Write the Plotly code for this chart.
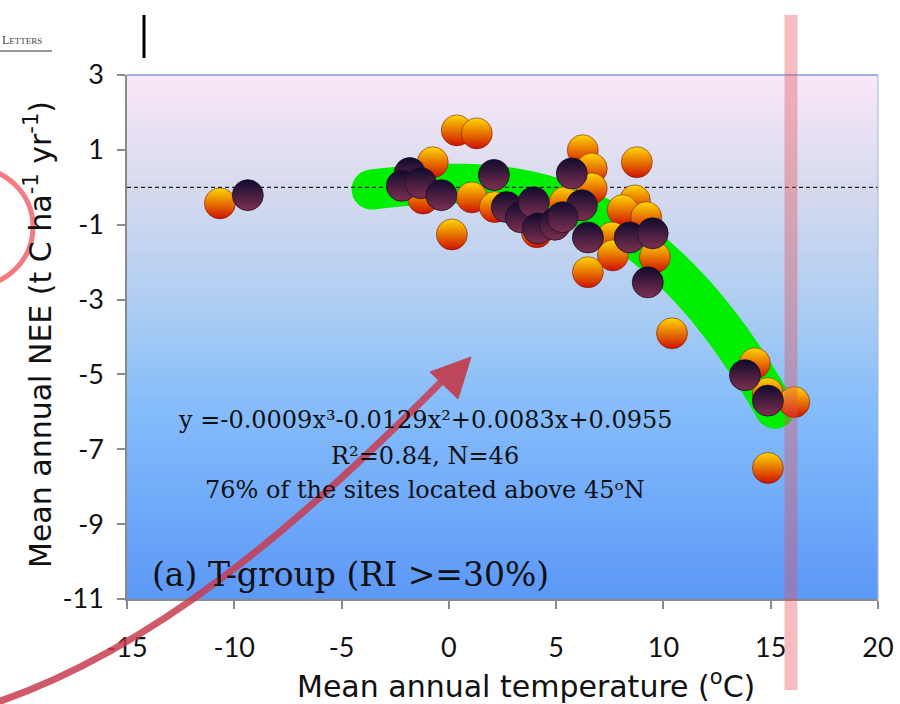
import numpy as np
import plotly.graph_objects as go

# ---------------- data ----------------
orange_x = [-10.67, 0.37, 1.3, -0.75, 0.14, 1.07, -1.2, 2.14, 4.1, 6.24, 6.66, 6.66, 5.4,
            8.76, 8.67, 8.1, 9.2, 7.6, 7.64, 9.6, 6.48, 10.4, 14.26, 14.87, 16.1, 14.87]
orange_y = [-0.43, 1.52, 1.44, 0.67, -1.26, -0.27, -0.3, -0.53, -1.2, 0.99, 0.5, -0.03, -0.4,
            0.67, -0.35, -0.61, -0.8, -1.34, -1.82, -1.87, -2.27, -3.9, -4.7, -5.5, -5.74, -7.5]

dark_x = [-9.37, -1.82, -2.19, -1.3, -0.35, 2.1, 2.7, 3.35, 3.95, 4.15, 5.0, 5.73, 6.2,
          4.94, 5.3, 6.48, 8.43, 9.5, 9.27, 13.8, 14.87]
dark_y = [-0.21, 0.38, 0.04, 0.11, -0.21, 0.33, -0.53, -0.8, -0.4, -1.1, -0.94, 0.37, -0.48,
          -1.0, -0.8, -1.34, -1.34, -1.23, -2.54, -5.02, -5.7]

trend_coef = [-0.0009, -0.0129, 0.0083, 0.0955]   # cubic trendline shown on chart
trend_x_range = [-3.6, 15.2]

x_ticks = [-15, -10, -5, 0, 5, 10, 15, 20]
y_ticks = [3, 1, -1, -3, -5, -7, -9, -11]
x_range = [-15, 20]
y_range = [-11, 3]

eq_text = "y =-0.0009x³-0.0129x²+0.0083x+0.0955"
r2_text = "R²=0.84, N=46"
sites_text = "76% of the sites located above 45ᵒN"
panel_text = "(a) T-group (RI >=30%)"
x_title = "Mean annual temperature (<sup>o</sup>C)"
y_title = "Mean annual NEE (t C ha<sup>-1</sup> yr<sup>-1</sup>)"

# ---------------- layout geometry ----------------
W, H = 900, 704
ML, MR, MT, MB = 127, 22, 75, 105
PW, PH = W - ML - MR, H - MT - MB


def px(xp):
    return (xp - ML) / PW


def py(yp):
    return (H - MB - yp) / PH


fig = go.Figure()

# trendline (thick green band)
tx = np.linspace(trend_x_range[0], trend_x_range[1], 120)
ty = np.polyval(trend_coef, tx)
green = "#00ee00"
fig.add_trace(go.Scatter(x=tx, y=ty, mode="lines",
                         line=dict(color=green, width=40, simplify=False, shape="spline"),
                         hoverinfo="skip", showlegend=False))
fig.add_trace(go.Scatter(x=[tx[0], tx[-1]], y=[ty[0], ty[-1]], mode="markers",
                         marker=dict(color=green, size=40, line=dict(width=0)),
                         hoverinfo="skip", showlegend=False))

# zero dashed line
fig.add_trace(go.Scatter(x=x_range, y=[0, 0], mode="lines",
                         line=dict(color="#222222", width=1.2, dash="4px,3px"),
                         hoverinfo="skip", showlegend=False))

# orange spheres
fig.add_trace(go.Scatter(x=orange_x, y=orange_y, mode="markers", showlegend=False,
                         marker=dict(size=31, color="#ffd800",
                                     gradient=dict(type="vertical", color="#d01000"),
                                     line=dict(color="rgba(110,20,20,0.55)", width=1))))
# dark spheres
fig.add_trace(go.Scatter(x=dark_x, y=dark_y, mode="markers", showlegend=False,
                         marker=dict(size=31, color="#0f0a2e",
                                     gradient=dict(type="vertical", color="#7e3050"),
                                     line=dict(color="rgba(25,12,40,0.75)", width=1))))

shapes = []
# background gradient strips in plot area
stops = [(0.0, (250, 232, 247)), (0.22, (214, 218, 238)), (0.45, (172, 205, 242)),
         (0.62, (135, 190, 250)), (1.0, (92, 152, 248))]


def col_at(t):
    for (t0, c0), (t1, c1) in zip(stops[:-1], stops[1:]):
        if t0 <= t <= t1:
            f = (t - t0) / (t1 - t0)
            return tuple(int(round(a + (b - a) * f)) for a, b in zip(c0, c1))
    return stops[-1][1]


N = 80
for i in range(N):
    t = (i + 0.5) / N
    c = col_at(t)
    shapes.append(dict(type="rect", xref="x domain", yref="y domain", x0=0, x1=1,
                       y0=1 - (i + 1) / N - 0.001, y1=1 - i / N + 0.001, layer="below",
                       line=dict(width=0), fillcolor="rgb(%d,%d,%d)" % c))
# plot border top/right
shapes.append(dict(type="line", xref="paper", yref="paper", x0=0, x1=1, y0=1, y1=1,
                   line=dict(color="#7f9fd6", width=1.5)))
shapes.append(dict(type="line", xref="paper", yref="paper", x0=1, x1=1, y0=0, y1=1,
                   line=dict(color="#9fb6e0", width=1)))

# decorations from the screenshot
# red curved arrow
p = [(-5, 703), (150, 650), (290, 535), (447, 376)]
path = "M %f,%f C %f,%f %f,%f %f,%f" % tuple(v for (a, b) in p for v in (px(a), py(b)))
shapes.append(dict(type="path", xref="paper", yref="paper", path=path,
                   line=dict(color="rgba(200,60,80,0.85)", width=7)))
head = [(471, 357), (430, 372), (458, 399)]
hpath = "M %f,%f L %f,%f L %f,%f Z" % tuple(v for (a, b) in head for v in (px(a), py(b)))
shapes.append(dict(type="path", xref="paper", yref="paper", path=hpath,
                   fillcolor="rgb(190,70,90)", line=dict(color="rgb(190,70,90)", width=1)))
# red circle at left
shapes.append(dict(type="circle", xref="paper", yref="paper",
                   x0=px(-85), x1=px(33), y0=py(286), y1=py(168),
                   line=dict(color="rgba(240,90,100,0.8)", width=5)))
# translucent vertical pink bar
shapes.append(dict(type="line", xref="paper", yref="paper", x0=px(791), x1=px(791),
                   y0=py(15), y1=py(690), layer="above",
                   line=dict(color="rgba(225,80,90,0.38)", width=13)))
# black bar at top
shapes.append(dict(type="line", xref="paper", yref="paper", x0=px(144), x1=px(144),
                   y0=py(15), y1=py(58), line=dict(color="black", width=3)))
# underline of header
shapes.append(dict(type="line", xref="paper", yref="paper", x0=px(0), x1=px(52),
                   y0=py(51), y1=py(51), line=dict(color="#333", width=1.2)))

serif = "DejaVu Serif"
annotations = [
    dict(text=eq_text, x=px(425), y=py(420), xref="paper", yref="paper", showarrow=False,
         font=dict(family=serif, size=24, color="#111"), xanchor="center", yanchor="middle"),
    dict(text=r2_text, x=px(425), y=py(456), xref="paper", yref="paper", showarrow=False,
         font=dict(family=serif, size=24, color="#111"), xanchor="center", yanchor="middle"),
    dict(text=sites_text, x=px(425), y=py(490), xref="paper", yref="paper", showarrow=False,
         font=dict(family=serif, size=24, color="#111"), xanchor="center", yanchor="middle"),
    dict(text=panel_text, x=px(150), y=py(574), xref="paper", yref="paper", showarrow=False,
         font=dict(family=serif, size=33, color="#111"), xanchor="left", yanchor="middle"),
    dict(text=x_title, x=px(526), y=py(684), xref="paper",
         yref="paper", showarrow=False, font=dict(family="DejaVu Sans", size=30, color="#111"),
         xanchor="center", yanchor="middle"),
    dict(text=y_title, x=px(38), y=py(335),
         xref="paper", yref="paper", showarrow=False, textangle=-90,
         font=dict(family="DejaVu Sans", size=30, color="#111"), xanchor="center", yanchor="middle"),
    dict(text="L<span style='font-size:9px'>ETTERS</span>", x=px(0), y=py(40), xref="paper",
         yref="paper", showarrow=False, font=dict(family="Liberation Serif", size=12, color="#444"),
         xanchor="left", yanchor="middle"),
]

fig.update_layout(
    width=W, height=H, margin=dict(l=ML, r=MR, t=MT, b=MB, pad=0, autoexpand=False),
    paper_bgcolor="white", plot_bgcolor="white", showlegend=False,
    shapes=shapes, annotations=annotations,
    xaxis=dict(range=x_range, tickvals=x_ticks, ticktext=[str(v) for v in x_ticks],
               automargin=False,
               showgrid=False, zeroline=False, showline=True, linecolor="#8a8a8a", linewidth=1.5,
               ticks="outside", ticklen=8, tickcolor="#8a8a8a", tickwidth=1.5,
               tickfont=dict(family="Lato", size=27, color="#111"), ticklabelstandoff=16),
    yaxis=dict(range=y_range, tickvals=y_ticks, ticktext=[str(v) for v in y_ticks],
               automargin=False,
               showgrid=False, zeroline=False, showline=True, linecolor="#8a8a8a", linewidth=1.5,
               ticks="outside", ticklen=8, tickcolor="#8a8a8a", tickwidth=1.5,
               tickfont=dict(family="Lato", size=27, color="#111"), ticklabelstandoff=8),
)

fig.write_html("out.html", config={"displayModeBar": False},
               post_script="document.body.style.margin='0';document.body.style.overflow='hidden';")
